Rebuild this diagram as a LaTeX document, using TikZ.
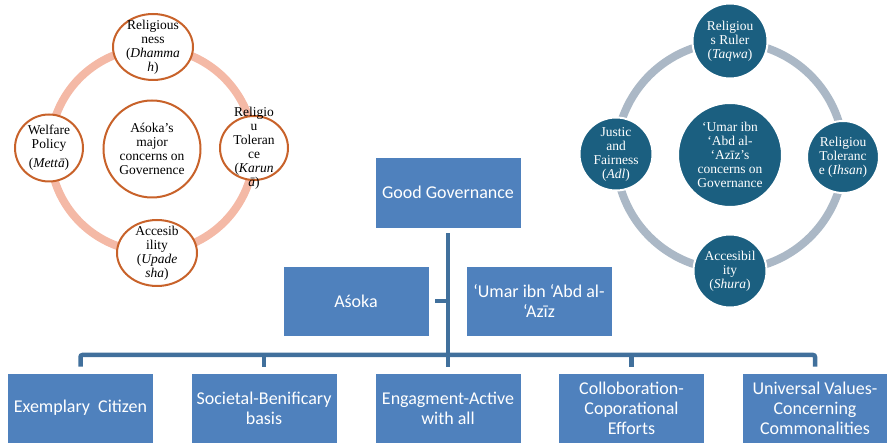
\documentclass[tikz,border=0pt]{standalone}
\usepackage{fontspec}
\setmainfont{Liberation Serif}
\newfontfamily\boxfont{Carlito}
\usepackage{tikz}
\usetikzlibrary{shapes.geometric}

\definecolor{boxblue}{HTML}{4F81BD}
\definecolor{linkblue}{HTML}{41709C}
\definecolor{ringpink}{HTML}{F4B9A6}
\definecolor{rimorange}{HTML}{C8622A}
\definecolor{tealfill}{HTML}{1B5F80}
\definecolor{ringgrey}{HTML}{ABB8C6}

\begin{document}
\begin{tikzpicture}[x=1pt, y=-1pt,
    govbox/.style={rectangle, fill=boxblue, draw=white, line width=0.6pt,
      minimum width=146pt, minimum height=70pt, inner sep=0pt, align=center,
      text=white, font=\boxfont\fontsize{18}{20}\selectfont},
    link/.style={draw=linkblue, line width=4.5pt},
    asokasat/.style={ellipse, draw=rimorange, line width=2pt, fill=white, inner sep=0pt},
    umarsat/.style={circle, fill=tealfill, draw=white, line width=2pt, inner sep=0pt},
    ringtext/.style={align=center, inner sep=0pt, font=\fontsize{13.5}{14}\selectfont}]
    \useasboundingbox (0,0) rectangle (887,443);

    % Asoka cycle
    \draw[ringpink, line width=8pt] (152,150) circle[radius=102pt];
    \node[asokasat, minimum width=97pt, minimum height=97pt] (asokacore) at (152,149) {};
    \node[asokasat, minimum width=80pt, minimum height=66pt] (dhamma) at (153,47) {};
    \node[asokasat, minimum width=68pt, minimum height=64pt] (karuna) at (254,148) {};
    \node[asokasat, minimum width=68pt, minimum height=67pt] (metta) at (49,148) {};
    \node[asokasat, minimum width=80pt, minimum height=66pt] (upadesha) at (157,253) {};
    \node[ringtext] at (asokacore) {Aśoka's\\major\\concerns on\\Governence};
    \node[ringtext] at (dhamma) {Religious\\ness\\(\textit{Dhamma}\\\textit{h})};
    \node[ringtext] at (karuna) {Religio\\u\\Toleran\\ce\\(\textit{Karun}\\\textit{ā})};
    \node[ringtext] at (metta) {Welfare\\Policy\\[5pt](\textit{Mettā})};
    \node[ringtext] at (upadesha) {Accesib\\ility\\(\textit{Upade}\\\textit{sha})};

    % Umar cycle
    \draw[ringgrey, line width=8pt] (730,156) circle[radius=114pt];
    \node[umarsat, minimum size=104pt] (umarcore) at (730,155) {};
    \node[umarsat, minimum size=75pt] (taqwa) at (730,41) {};
    \node[umarsat, minimum size=72pt] (ihsan) at (843,157) {};
    \node[umarsat, minimum size=73pt] (shura) at (730,271) {};
    \node[umarsat, minimum size=73pt] (adl) at (616,154) {};
    \node[ringtext, text=white] at (umarcore) {‘Umar ibn\\‘Abd al-\\‘Azīz's\\concerns on\\Governance};
    \node[ringtext, text=white] at (taqwa) {Religiou\\s Ruler\\(\textit{Taqwa})};
    \node[ringtext, text=white] at (ihsan) {Religiou\\Toleranc\\e (\textit{Ihsan})};
    \node[ringtext, text=white] at (shura) {Accesibil\\ity\\(\textit{Shura})};
    \node[ringtext, text=white] at (adl) {Justic\\and\\Fairness\\(\textit{Adl})};

    % hierarchy
    \node[govbox, minimum height=71pt] (gg) at (448,192.5) {Good Governance};
    \node[govbox] (asoka) at (356,301) {Aśoka};
    \node[govbox] (umar) at (539,301) {‘Umar ibn ‘Abd al-\\‘Azīz};
    \node[govbox] (citizen) at (80.5,408) {Exemplary~~Citizen};
    \node[govbox] (society) at (264,408) {Societal-Benificary\\basis};
    \node[govbox] (engage) at (448,408) {Engagment-Active\\with all};
    \node[govbox] (effort) at (631.5,408) {Colloboration-\\Coporational\\Efforts};
    \node[govbox] (values) at (815,408) {Universal Values-\\Concerning\\Commonalities};

    \coordinate (bus) at (448,355);
    \draw[link] ([yshift=-5pt]gg.south) -- (bus);
    \draw[link] ([xshift=6pt]asoka.east) -- (asoka.east -| bus);
    \draw[link, rounded corners=2pt] ([yshift=6pt]citizen.north) |- (values.north |- bus) -- ([yshift=6pt]values.north);
    \foreach \b in {society, engage, effort}
      \draw[link] ([yshift=6pt]\b.north) -- (\b.north |- bus);
  \end{tikzpicture}
\end{document}
